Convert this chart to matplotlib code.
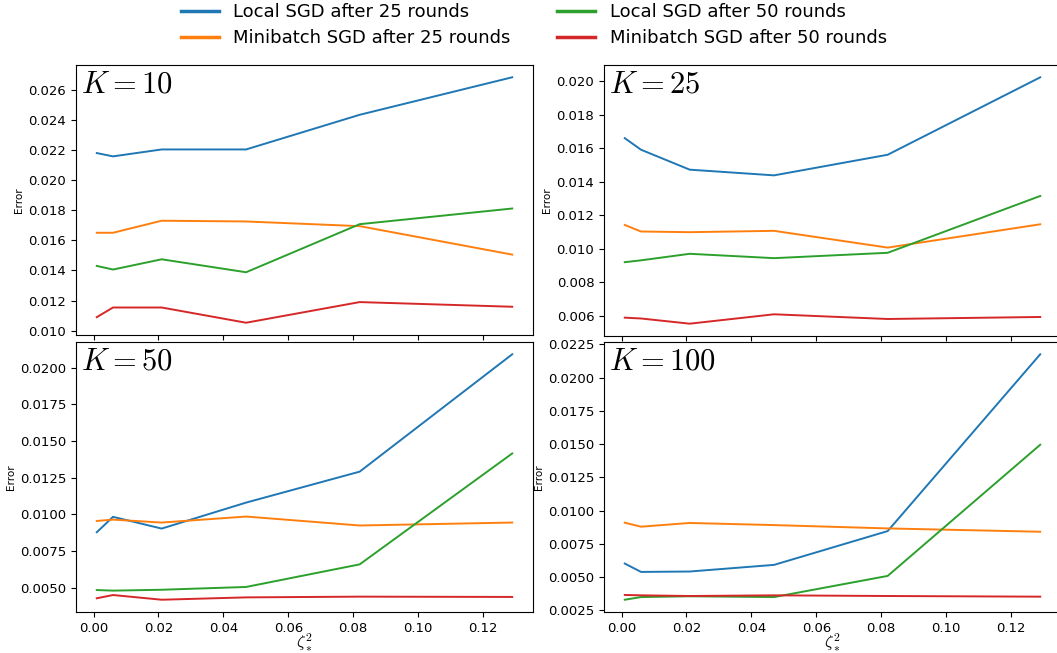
import matplotlib
matplotlib.use('Agg')
import matplotlib.pyplot as plt

plt.rcParams['mathtext.fontset'] = 'cm'

zeta2 = [0.001, 0.006, 0.021, 0.047, 0.082, 0.129]

# K = 10
local25_k10 = [0.02179, 0.02157, 0.02203, 0.02203, 0.02433, 0.02682]
mini25_k10 = [0.01650, 0.01650, 0.01730, 0.01725, 0.01694, 0.01505]
local50_k10 = [0.01430, 0.01406, 0.01474, 0.01388, 0.01707, 0.01811]
mini50_k10 = [0.01090, 0.01154, 0.01154, 0.01053, 0.01190, 0.01159]

# K = 25
local25_k25 = [0.01661, 0.01592, 0.01473, 0.01439, 0.01562, 0.02024]
mini25_k25 = [0.01143, 0.01104, 0.01100, 0.01108, 0.01008, 0.01147]
local50_k25 = [0.00921, 0.00932, 0.00971, 0.00945, 0.00977, 0.01316]
mini50_k25 = [0.00590, 0.00585, 0.00554, 0.00610, 0.00582, 0.00594]

# K = 50
local25_k50 = [0.00878, 0.00983, 0.00903, 0.01080, 0.01291, 0.02091]
mini25_k50 = [0.00955, 0.00964, 0.00944, 0.00985, 0.00924, 0.00944]
local50_k50 = [0.00484, 0.00480, 0.00486, 0.00505, 0.00659, 0.01415]
mini50_k50 = [0.00428, 0.00450, 0.00418, 0.00434, 0.00439, 0.00437]

# K = 100
local25_k100 = [0.00602, 0.00539, 0.00542, 0.00592, 0.00846, 0.02175]
mini25_k100 = [0.00909, 0.00879, 0.00907, 0.00891, 0.00866, 0.00841]
local50_k100 = [0.00330, 0.00350, 0.00356, 0.00350, 0.00509, 0.01495]
mini50_k100 = [0.00366, 0.00363, 0.00358, 0.00363, 0.00358, 0.00353]

Ks = [10, 25, 50, 100]
series = [
    (local25_k10, mini25_k10, local50_k10, mini50_k10),
    (local25_k25, mini25_k25, local50_k25, mini50_k25),
    (local25_k50, mini25_k50, local50_k50, mini50_k50),
    (local25_k100, mini25_k100, local50_k100, mini50_k100),
]
names = ['Local SGD after 25 rounds', 'Minibatch SGD after 25 rounds',
         'Local SGD after 50 rounds', 'Minibatch SGD after 50 rounds']
colors = ['C0', 'C1', 'C2', 'C3']

fig = plt.figure(figsize=(10.57, 6.53), dpi=100)
W, H = 1057.0, 653.0
w = 457 / W
boxes = [
    (76 / W, 1 - 335 / H, w, 270 / H),
    (604 / W, 1 - 336 / H, w, 271 / H),
    (76 / W, 1 - 612 / H, w, 270 / H),
    (604 / W, 1 - 612 / H, w, 270 / H),
]

axes = []
for i, (k, data) in enumerate(zip(Ks, series)):
    ax = fig.add_axes(boxes[i])
    for ys, c, n in zip(data, colors, names):
        ax.plot(zeta2, ys, color=c, lw=1.4, label=n)
    ax.text(0.012, 0.985, r'$K = %d$' % k, transform=ax.transAxes,
            va='top', ha='left', fontsize=22)
    ax.set_ylabel('Error', fontsize=7.5, labelpad=3)
    ax.tick_params(labelsize=9.5)
    ax.set_xticks([0.0, 0.02, 0.04, 0.06, 0.08, 0.10, 0.12])
    if i < 2:
        ax.tick_params(labelbottom=False)
    else:
        ax.set_xlabel(r'$\zeta_*^2$', fontsize=12, labelpad=-2)
    axes.append(ax)

handles, labels = axes[0].get_legend_handles_labels()
leg = fig.legend(handles, labels, loc='upper center', bbox_to_anchor=(0.505, 1.02),
                 ncol=2, frameon=False, handlelength=2.1, columnspacing=2.6,
                 labelspacing=0.45, fontsize=13)
for h in leg.get_lines():
    h.set_linewidth(2.5)

fig.savefig('out.png', dpi=100)
